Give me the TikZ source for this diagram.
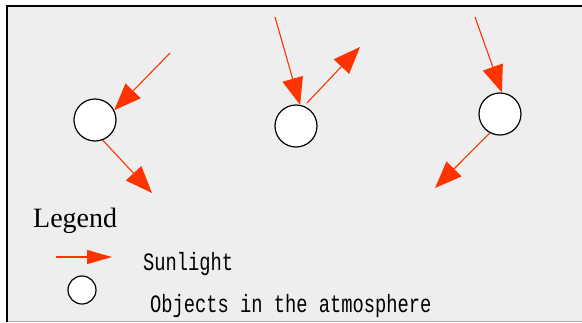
\documentclass[tikz,border=0pt]{standalone}
\usepackage{fontspec}
\usetikzlibrary{positioning, arrows.meta}
\newfontfamily\captionfont[FakeStretch=0.75]{Liberation Mono}
\newfontfamily\titlefont{Liberation Serif}
\definecolor{sunred}{RGB}{255,51,0}
\definecolor{panelgray}{RGB}{238,238,238}
\tikzset{
    object/.style={circle, draw=black, line width=1.2pt, fill=white, inner sep=0pt, minimum size=42pt},
    smallobject/.style={object, minimum size=28pt},
    ray/.style={-{Triangle[length=27pt, width=21pt]}, sunred, line width=1.1pt},
    caption/.style={anchor=base west, inner sep=0pt, font=\captionfont\fontsize{25}{25}\selectfont},
    title/.style={anchor=base west, inner sep=0pt, font=\titlefont\fontsize{28}{28}\selectfont}
}

\begin{document}
\begin{tikzpicture}[x=1pt, y=-1pt]
    \useasboundingbox (0,0) rectangle (582,322);

    % Panel
    \fill[panelgray] (8,6) rectangle (582,321);
    \draw[gray!60, line width=1pt] (8,321) -- (582,321);
    \draw[black, line width=2pt] (7,322) -- (7,6) -- (582,6);

    % Objects
    \node[object] (obj1) at (95,120) {};
    \node[object] (obj2) at (296,126) {};
    \node[object] (obj3) at (500,114) {};

    % Sunlight
    \coordinate (in1) at (170,53);
    \coordinate (out1) at (152,193);
    \coordinate (in2) at (275,17);
    \coordinate (out2) at (360,47);
    \coordinate (in3) at (475,17);
    \coordinate (out3) at (435,188);

    \draw[ray] (in1) -- (obj1.27);
    \draw[ray] (obj1.-69) -- (out1);
    \draw[ray] (in2) -- (obj2.79);
    \draw[ray, shorten <=4pt] (obj2.68) -- (out2);
    \draw[ray] (in3) -- (obj3.85);
    \draw[ray] (obj3.-118) -- (out3);

    % Legend
    \node[title] (legend) at (33,227) {Legend};
    \coordinate (keyfrom) at (56,257);
    \coordinate (keyto) at (112,257);
    \draw[ray, -{Triangle[length=25pt, width=14pt]}] (keyfrom) -- (keyto);
    \node[caption] (sunlight) at (143,270) {Sunlight};
    \node[smallobject] (keyobj) at (82,290) {};
    \node[caption] (objects) at (150,312) {Objects in the atmosphere};
\end{tikzpicture}
\end{document}
